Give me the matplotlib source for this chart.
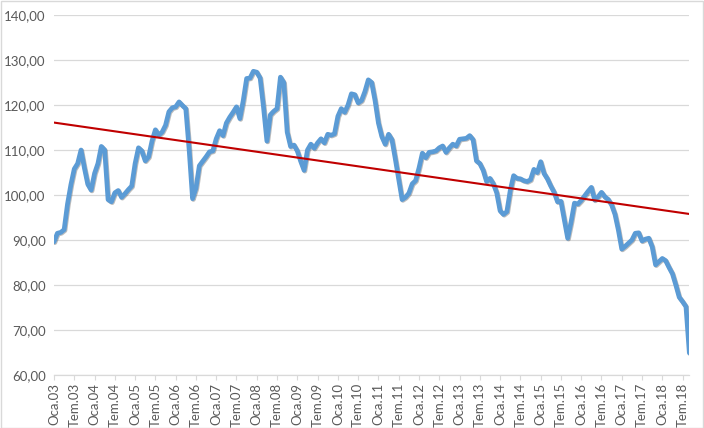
import numpy as np
import matplotlib
matplotlib.use('Agg')
import matplotlib.pyplot as plt
import matplotlib.patheffects as pe
from matplotlib.patches import Rectangle

# monthly index, Oca.03 .. Eyl.18
values = [
    89.6, 91.5, 91.7, 92.3, 98.0, 102.3, 105.8, 107.0, 110.0, 106.0,
    102.4, 101.1, 104.8, 107.0, 110.8, 110.0, 99.0, 98.5, 100.5, 101.0,
    99.5, 100.3, 101.2, 102.0, 107.0, 110.5, 109.8, 107.6, 108.5, 112.0,
    114.5, 113.3, 114.0, 115.5, 118.5, 119.4, 119.6, 120.7, 119.9, 119.2,
    110.0, 99.2, 101.5, 106.5, 107.5, 108.5, 109.6, 109.8, 112.5, 114.3,
    113.2, 116.0, 117.3, 118.4, 119.6, 117.0, 121.0, 125.9, 126.0, 127.5,
    127.3, 126.0, 119.5, 112.0, 117.8, 118.6, 119.2, 126.2, 125.0, 114.0,
    110.8, 111.1, 109.8, 107.5, 105.5, 110.0, 111.3, 110.4, 111.6, 112.5,
    111.6, 113.5, 113.3, 113.6, 117.5, 119.2, 118.4, 120.0, 122.5, 122.3,
    120.5, 121.0, 123.0, 125.6, 125.0, 121.0, 116.0, 113.0, 111.3, 113.5,
    112.3, 108.0, 103.5, 99.0, 99.5, 100.4, 102.5, 103.2, 106.0, 109.3,
    108.3, 109.5, 109.6, 109.8, 110.5, 110.9, 109.5, 110.5, 111.3, 110.9,
    112.4, 112.5, 112.6, 113.2, 112.3, 107.6, 107.0, 105.5, 103.0, 103.7,
    102.5, 100.5, 96.5, 95.7, 96.3, 101.0, 104.3, 103.7, 103.6, 103.2,
    103.0, 103.4, 105.7, 105.0, 107.4, 104.8, 103.6, 102.0, 100.6, 98.5,
    98.6, 94.5, 90.4, 94.0, 98.2, 98.0, 98.8, 99.8, 100.8, 101.7,
    98.9, 99.6, 100.6, 99.6, 99.0, 97.8, 95.7, 92.2, 88.0, 88.6,
    89.3, 90.0, 91.5, 91.6, 89.8, 90.2, 90.4, 88.5, 84.5, 85.2,
    85.9, 85.4, 83.9, 82.5, 80.0, 77.3, 76.3, 75.2, 64.9,
]
tick_labels = [f"{m}.{y:02d}" for y in range(3, 19) for m in ("Oca", "Tem")]
y_ticks = [60, 70, 80, 90, 100, 110, 120, 130, 140]

plt.rcParams['font.family'] = ['Lato', 'DejaVu Sans']

x = np.arange(len(values))
slope, icpt = np.polyfit(x, values, 1)

fig = plt.figure(figsize=(7.04, 4.28), dpi=100)
ax = fig.add_axes([0.0767, 0.1238, 0.9025, 0.841])

ax.plot(x, values, color='#5B9BD5', lw=3.4, solid_joinstyle='round', solid_capstyle='round',
        path_effects=[pe.SimpleLineShadow(offset=(0.6, -0.6), shadow_color='#404040', alpha=0.35),
                      pe.Normal()], zorder=3)
ax.plot(x, slope * x + icpt, color='#C00000', lw=1.5, zorder=4)

ax.set_xlim(0, len(values) - 1)
ax.set_ylim(60, 140)
ax.set_yticks(y_ticks)
ax.set_yticklabels([f"{v},00" for v in y_ticks])
ax.set_xticks(np.arange(0, len(values), 6))
ax.set_xticklabels(tick_labels, rotation=90)

ax.grid(axis='y', color='#D9D9D9', lw=0.9)
ax.set_axisbelow(True)
for edge in ['left', 'right', 'top']:
    ax.spines[edge].set_visible(False)
ax.spines['bottom'].set_color('#D9D9D9')
ax.spines['bottom'].set_linewidth(0.9)
ax.tick_params(axis='y', length=0, colors='#595959', labelsize=9.5, pad=6)
ax.tick_params(axis='x', length=3.5, color='#D9D9D9', colors='#595959', labelsize=9.5, pad=2)
ax.tick_params(axis='x', labelcolor='#595959', color='#D9D9D9')

fig.patches.append(Rectangle((0.001, 0.001), 0.997, 0.997, transform=fig.transFigure,
                             fill=False, edgecolor='#D9D9D9', lw=1.0))

fig.savefig('out.png', dpi=100)
